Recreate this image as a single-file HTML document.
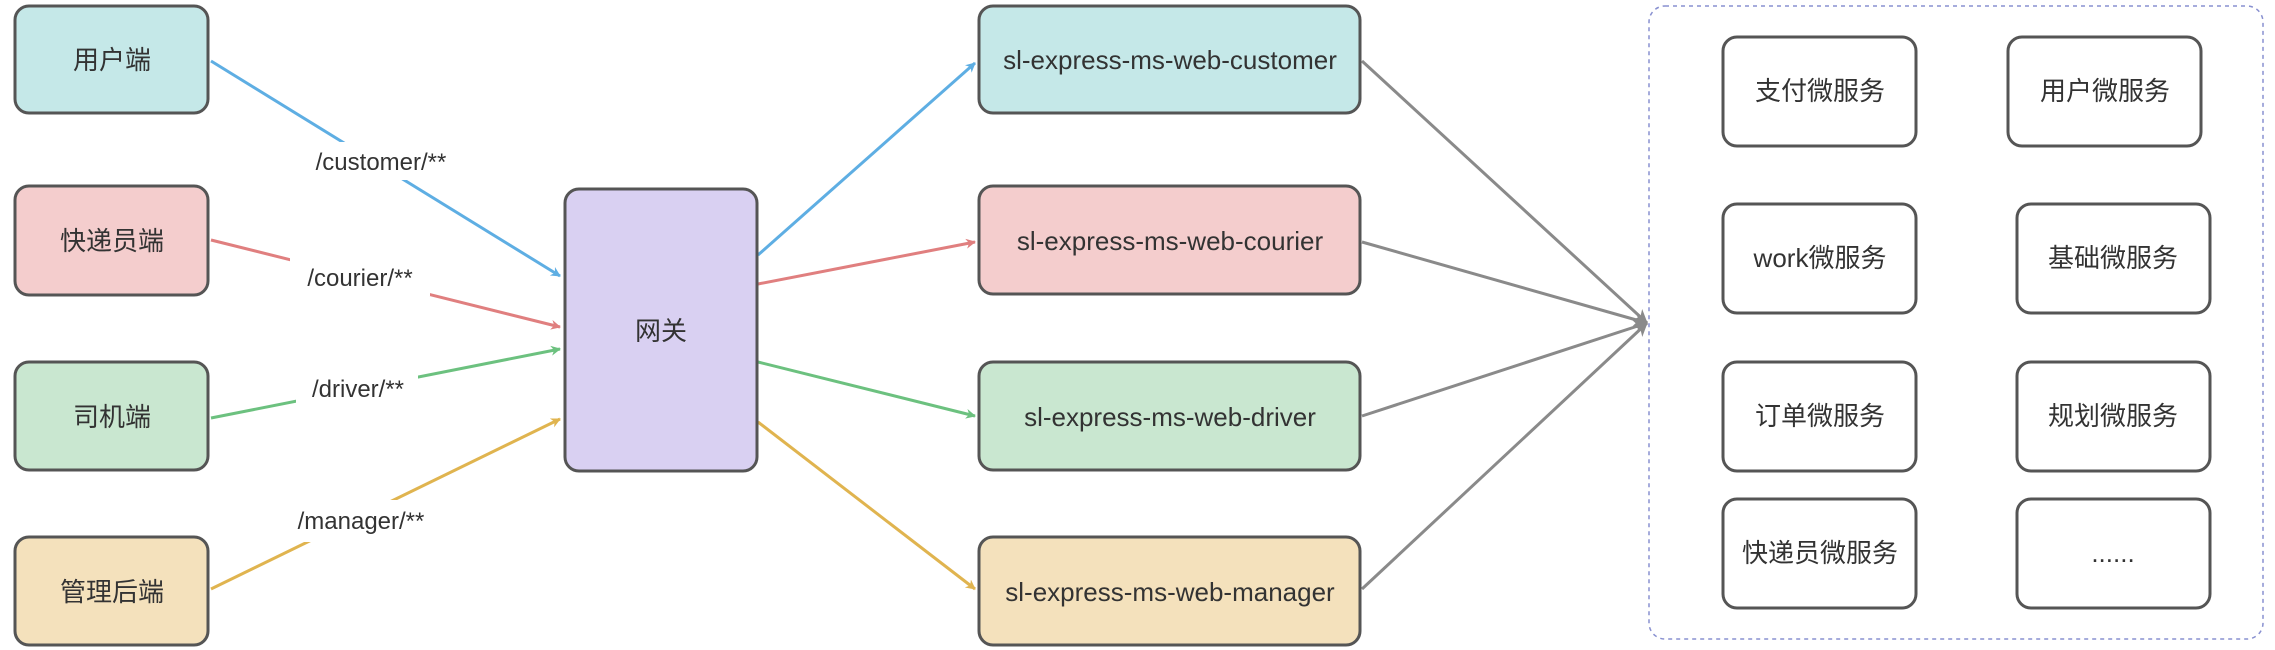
<!DOCTYPE html>
<html><head><meta charset="utf-8"><style>
html,body{margin:0;padding:0;background:#fff;}
svg{display:block;}
text{font-family:"Liberation Sans","Noto Sans CJK SC",sans-serif;fill:#333;}
</style></head><body>
<svg width="2275" height="650" viewBox="0 0 2275 650" xmlns="http://www.w3.org/2000/svg">
<defs>
<marker id="ab" markerWidth="10" markerHeight="10" refX="9" refY="5" orient="auto" markerUnits="userSpaceOnUse" viewBox="0 0 10 10"><path d="M0,0 L10,5 L0,10 L3,5z" fill="#5eaee3"/></marker>
<marker id="ar" markerWidth="10" markerHeight="10" refX="9" refY="5" orient="auto" markerUnits="userSpaceOnUse"><path d="M0,0 L10,5 L0,10 L3,5z" fill="#e07f7f"/></marker>
<marker id="ag" markerWidth="10" markerHeight="10" refX="9" refY="5" orient="auto" markerUnits="userSpaceOnUse"><path d="M0,0 L10,5 L0,10 L3,5z" fill="#6cc17f"/></marker>
<marker id="ay" markerWidth="10" markerHeight="10" refX="9" refY="5" orient="auto" markerUnits="userSpaceOnUse"><path d="M0,0 L10,5 L0,10 L3,5z" fill="#e0b44f"/></marker>
<marker id="ax" markerWidth="14" markerHeight="14" refX="13" refY="7" orient="auto" markerUnits="userSpaceOnUse"><path d="M0,0 L14,7 L0,14 L4,7z" fill="#8a8a8a"/></marker>
</defs>
<g stroke-width="3" fill="none">
<line x1="211" y1="61" x2="560" y2="276" stroke="#5eaee3" marker-end="url(#ab)"/>
<line x1="211" y1="240" x2="560" y2="327" stroke="#e07f7f" marker-end="url(#ar)"/>
<line x1="211" y1="418" x2="560" y2="349" stroke="#6cc17f" marker-end="url(#ag)"/>
<line x1="211" y1="589" x2="560" y2="419" stroke="#e0b44f" marker-end="url(#ay)"/>
<line x1="758" y1="255" x2="975" y2="63" stroke="#5eaee3" marker-end="url(#ab)"/>
<line x1="758" y1="284" x2="975" y2="242" stroke="#e07f7f" marker-end="url(#ar)"/>
<line x1="758" y1="362" x2="975" y2="416" stroke="#6cc17f" marker-end="url(#ag)"/>
<line x1="758" y1="422" x2="975" y2="589" stroke="#e0b44f" marker-end="url(#ay)"/>
<line x1="1362" y1="61" x2="1647" y2="323" stroke="#8a8a8a" marker-end="url(#ax)"/>
<line x1="1362" y1="242" x2="1647" y2="323" stroke="#8a8a8a" marker-end="url(#ax)"/>
<line x1="1362" y1="416" x2="1647" y2="323" stroke="#8a8a8a" marker-end="url(#ax)"/>
<line x1="1362" y1="589" x2="1647" y2="323" stroke="#8a8a8a" marker-end="url(#ax)"/>
</g>
<g font-size="24" text-anchor="middle">
<rect x="298" y="142" width="168" height="38" fill="#fff"/><text x="381" y="170">/customer/**</text>
<rect x="290" y="258" width="140" height="38" fill="#fff"/><text x="360" y="286">/courier/**</text>
<rect x="296" y="370" width="122" height="38" fill="#fff"/><text x="358" y="397">/driver/**</text>
<rect x="284" y="500" width="156" height="42" fill="#fff"/><text x="361" y="529">/manager/**</text>
</g>
<g stroke="#555" stroke-width="3">
<rect x="15" y="6" width="193" height="107" rx="14" fill="#c5e8e8"/>
<rect x="15" y="186" width="193" height="109" rx="14" fill="#f4cdcd"/>
<rect x="15" y="362" width="193" height="108" rx="14" fill="#c9e7d0"/>
<rect x="15" y="537" width="193" height="108" rx="14" fill="#f4e1bc"/>
<rect x="565" y="189" width="192" height="282" rx="14" fill="#d9d0f2"/>
<rect x="979" y="6" width="381" height="107" rx="14" fill="#c5e8e8"/>
<rect x="979" y="186" width="381" height="108" rx="14" fill="#f4cdcd"/>
<rect x="979" y="362" width="381" height="108" rx="14" fill="#c9e7d0"/>
<rect x="979" y="537" width="381" height="108" rx="14" fill="#f4e1bc"/>
</g>
<rect x="1649" y="6" width="614" height="633" rx="16" fill="none" stroke="#8890d0" stroke-width="1.5" stroke-dasharray="4,4"/>
<g stroke="#555" stroke-width="3" fill="#fff">
<rect x="1723" y="37" width="193" height="109" rx="14"/>
<rect x="2008" y="37" width="193" height="109" rx="14"/>
<rect x="1723" y="204" width="193" height="109" rx="14"/>
<rect x="2017" y="204" width="193" height="109" rx="14"/>
<rect x="1723" y="362" width="193" height="109" rx="14"/>
<rect x="2017" y="362" width="193" height="109" rx="14"/>
<rect x="1723" y="499" width="193" height="109" rx="14"/>
<rect x="2017" y="499" width="193" height="109" rx="14"/>
</g>
<g font-size="26" text-anchor="middle">
<text x="112" y="69">用户端</text>
<text x="112" y="250">快递员端</text>
<text x="112" y="426">司机端</text>
<text x="112" y="601">管理后端</text>
<text x="661" y="340">网关</text>
<text x="1170" y="69">sl-express-ms-web-customer</text>
<text x="1170" y="250">sl-express-ms-web-courier</text>
<text x="1170" y="426">sl-express-ms-web-driver</text>
<text x="1170" y="601">sl-express-ms-web-manager</text>
<text x="1820" y="100">支付微服务</text>
<text x="2105" y="100">用户微服务</text>
<text x="1820" y="267">work微服务</text>
<text x="2113" y="267">基础微服务</text>
<text x="1820" y="425">订单微服务</text>
<text x="2113" y="425">规划微服务</text>
<text x="1820" y="562">快递员微服务</text>
<text x="2113" y="562">......</text>
</g>
</svg>
</body></html>
